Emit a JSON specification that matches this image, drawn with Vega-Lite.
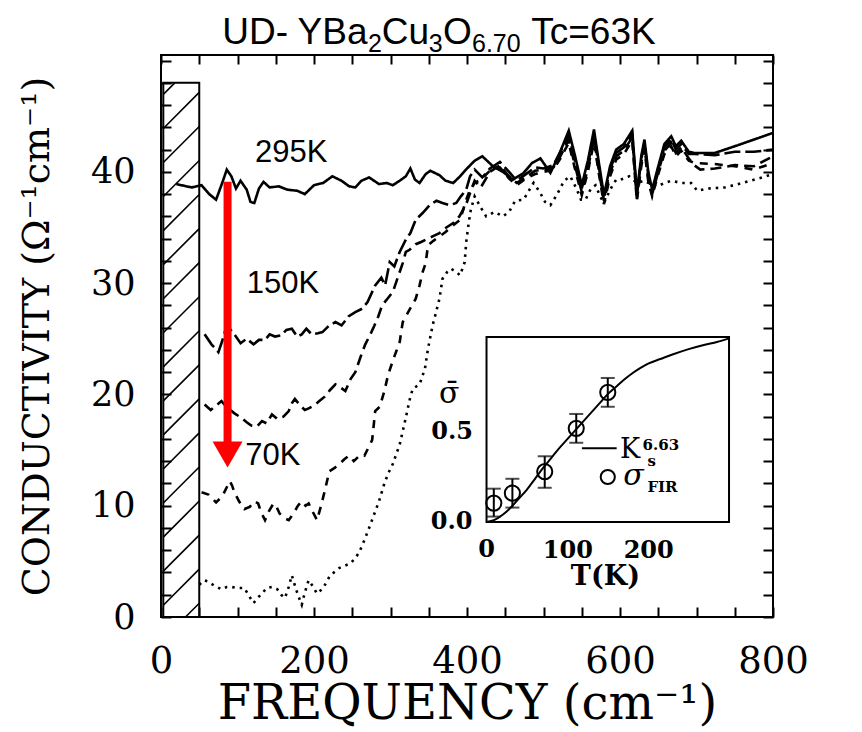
{
  "$schema": "https://vega.github.io/schema/vega-lite/v6.json",
  "width": 612,
  "height": 562,
  "autosize": "none",
  "padding": {"left": 161, "top": 55, "right": 89, "bottom": 115},
  "background": "white",
  "config": {
    "view": {"stroke": "black", "strokeWidth": 2},
    "axis": {"grid": false, "domain": false, "tickColor": "black", "labelColor": "black", "titleColor": "black"}
  },
  "datasets": {
    "spectra": [
      {"T":"295K","f":20,"s":38.9},{"T":"295K","f":40,"s":38.6},{"T":"295K","f":53,"s":38.8},{"T":"295K","f":63,"s":38.0},{"T":"295K","f":72,"s":37.5},{"T":"295K","f":80,"s":39.0},{"T":"295K","f":86,"s":40.2},{"T":"295K","f":92,"s":39.6},{"T":"295K","f":98,"s":38.5},{"T":"295K","f":104,"s":39.2},{"T":"295K","f":112,"s":38.4},{"T":"295K","f":117,"s":37.3},{"T":"295K","f":122,"s":37.2},{"T":"295K","f":128,"s":38.5},{"T":"295K","f":134,"s":39.1},{"T":"295K","f":142,"s":38.6},{"T":"295K","f":154,"s":38.7},{"T":"295K","f":165,"s":38.4},{"T":"295K","f":178,"s":38.3},{"T":"295K","f":188,"s":38.0},{"T":"295K","f":200,"s":38.8},{"T":"295K","f":212,"s":39.0},{"T":"295K","f":224,"s":39.6},{"T":"295K","f":236,"s":39.2},{"T":"295K","f":246,"s":38.7},{"T":"295K","f":254,"s":38.6},{"T":"295K","f":262,"s":39.2},{"T":"295K","f":272,"s":39.5},{"T":"295K","f":285,"s":38.9},{"T":"295K","f":295,"s":39.0},{"T":"295K","f":303,"s":38.8},{"T":"295K","f":312,"s":39.2},{"T":"295K","f":320,"s":39.6},{"T":"295K","f":326,"s":40.3},{"T":"295K","f":332,"s":39.3},{"T":"295K","f":338,"s":39.0},{"T":"295K","f":346,"s":39.8},{"T":"295K","f":352,"s":40.1},{"T":"295K","f":364,"s":39.7},{"T":"295K","f":372,"s":39.2},{"T":"295K","f":382,"s":39.0},{"T":"295K","f":391,"s":39.6},{"T":"295K","f":400,"s":40.3},{"T":"295K","f":410,"s":41.0},{"T":"295K","f":420,"s":41.4},{"T":"295K","f":434,"s":40.5},{"T":"295K","f":447,"s":40.0},{"T":"295K","f":460,"s":39.3},{"T":"295K","f":474,"s":39.9},{"T":"295K","f":485,"s":40.8},{"T":"295K","f":496,"s":41.2},{"T":"295K","f":509,"s":39.9},{"T":"295K","f":520,"s":41.5},{"T":"295K","f":533,"s":43.7},{"T":"295K","f":541,"s":41.5},{"T":"295K","f":550,"s":38.8},{"T":"295K","f":558,"s":41.0},{"T":"295K","f":566,"s":43.8},{"T":"295K","f":572,"s":41.0},{"T":"295K","f":579,"s":37.9},{"T":"295K","f":587,"s":40.5},{"T":"295K","f":595,"s":42.0},{"T":"295K","f":605,"s":42.5},{"T":"295K","f":616,"s":43.7},{"T":"295K","f":622,"s":38.1},{"T":"295K","f":628,"s":41.5},{"T":"295K","f":632,"s":42.9},{"T":"295K","f":637,"s":40.0},{"T":"295K","f":642,"s":38.4},{"T":"295K","f":650,"s":40.5},{"T":"295K","f":658,"s":42.5},{"T":"295K","f":667,"s":43.2},{"T":"295K","f":673,"s":42.3},{"T":"295K","f":680,"s":42.8},{"T":"295K","f":690,"s":41.8},{"T":"295K","f":697,"s":41.7},{"T":"295K","f":724,"s":41.7},{"T":"295K","f":750,"s":42.3},{"T":"295K","f":775,"s":42.9},{"T":"295K","f":800,"s":43.5},

      {"T":"150K","f":57,"s":25.4},{"T":"150K","f":66,"s":24.5},{"T":"150K","f":75,"s":23.8},{"T":"150K","f":80,"s":24.8},{"T":"150K","f":86,"s":26.2},{"T":"150K","f":91,"s":25.8},{"T":"150K","f":96,"s":25.4},{"T":"150K","f":104,"s":24.6},{"T":"150K","f":112,"s":25.0},{"T":"150K","f":121,"s":24.5},{"T":"150K","f":128,"s":24.9},{"T":"150K","f":136,"s":24.9},{"T":"150K","f":142,"s":25.4},{"T":"150K","f":149,"s":25.2},{"T":"150K","f":157,"s":25.3},{"T":"150K","f":164,"s":25.8},{"T":"150K","f":171,"s":25.9},{"T":"150K","f":178,"s":25.2},{"T":"150K","f":184,"s":25.4},{"T":"150K","f":190,"s":25.9},{"T":"150K","f":197,"s":25.4},{"T":"150K","f":205,"s":25.5},{"T":"150K","f":211,"s":25.6},{"T":"150K","f":220,"s":26.2},{"T":"150K","f":228,"s":26.5},{"T":"150K","f":236,"s":26.2},{"T":"150K","f":245,"s":27.0},{"T":"150K","f":254,"s":27.4},{"T":"150K","f":263,"s":27.7},{"T":"150K","f":270,"s":28.3},{"T":"150K","f":280,"s":29.8},{"T":"150K","f":288,"s":30.5},{"T":"150K","f":293,"s":29.8},{"T":"150K","f":299,"s":31.9},{"T":"150K","f":305,"s":31.5},{"T":"150K","f":312,"s":32.8},{"T":"150K","f":320,"s":33.9},{"T":"150K","f":326,"s":34.5},{"T":"150K","f":333,"s":35.7},{"T":"150K","f":342,"s":36.3},{"T":"150K","f":351,"s":37.0},{"T":"150K","f":360,"s":37.4},{"T":"150K","f":368,"s":37.2},{"T":"150K","f":377,"s":37.0},{"T":"150K","f":386,"s":37.2},{"T":"150K","f":392,"s":37.8},{"T":"150K","f":399,"s":38.4},{"T":"150K","f":404,"s":39.6},{"T":"150K","f":410,"s":40.2},{"T":"150K","f":420,"s":39.5},{"T":"150K","f":430,"s":40.3},{"T":"150K","f":443,"s":40.9},{"T":"150K","f":455,"s":40.0},{"T":"150K","f":465,"s":39.2},{"T":"150K","f":477,"s":39.8},{"T":"150K","f":489,"s":40.4},{"T":"150K","f":500,"s":40.3},{"T":"150K","f":513,"s":40.6},{"T":"150K","f":522,"s":41.8},{"T":"150K","f":533,"s":43.3},{"T":"150K","f":541,"s":41.0},{"T":"150K","f":550,"s":38.5},{"T":"150K","f":558,"s":40.6},{"T":"150K","f":566,"s":43.4},{"T":"150K","f":572,"s":40.6},{"T":"150K","f":579,"s":37.6},{"T":"150K","f":587,"s":40.2},{"T":"150K","f":595,"s":41.7},{"T":"150K","f":605,"s":42.2},{"T":"150K","f":616,"s":43.4},{"T":"150K","f":622,"s":37.9},{"T":"150K","f":628,"s":41.2},{"T":"150K","f":632,"s":42.6},{"T":"150K","f":637,"s":39.7},{"T":"150K","f":642,"s":38.2},{"T":"150K","f":650,"s":40.3},{"T":"150K","f":658,"s":42.2},{"T":"150K","f":667,"s":42.9},{"T":"150K","f":673,"s":42.0},{"T":"150K","f":680,"s":42.5},{"T":"150K","f":690,"s":41.6},{"T":"150K","f":697,"s":41.6},{"T":"150K","f":724,"s":41.5},{"T":"150K","f":750,"s":41.8},{"T":"150K","f":775,"s":41.8},{"T":"150K","f":800,"s":42.0},

      {"T":"100K","f":57,"s":19.1},{"T":"100K","f":65,"s":18.6},{"T":"100K","f":72,"s":19.0},{"T":"100K","f":79,"s":19.4},{"T":"100K","f":84,"s":19.0},{"T":"100K","f":88,"s":18.75},{"T":"100K","f":96,"s":18.3},{"T":"100K","f":105,"s":17.9},{"T":"100K","f":112,"s":17.5},{"T":"100K","f":118,"s":17.2},{"T":"100K","f":125,"s":17.1},{"T":"100K","f":132,"s":17.6},{"T":"100K","f":138,"s":17.4},{"T":"100K","f":145,"s":18.2},{"T":"100K","f":152,"s":17.8},{"T":"100K","f":160,"s":18.0},{"T":"100K","f":167,"s":18.5},{"T":"100K","f":171,"s":19.2},{"T":"100K","f":175,"s":19.6},{"T":"100K","f":182,"s":19.0},{"T":"100K","f":188,"s":18.6},{"T":"100K","f":193,"s":18.75},{"T":"100K","f":200,"s":19.0},{"T":"100K","f":207,"s":19.4},{"T":"100K","f":214,"s":19.8},{"T":"100K","f":221,"s":20.4},{"T":"100K","f":228,"s":20.9},{"T":"100K","f":235,"s":20.6},{"T":"100K","f":241,"s":20.3},{"T":"100K","f":248,"s":21.4},{"T":"100K","f":254,"s":22.0},{"T":"100K","f":261,"s":23.4},{"T":"100K","f":267,"s":24.5},{"T":"100K","f":273,"s":25.3},{"T":"100K","f":279,"s":26.2},{"T":"100K","f":284,"s":27.0},{"T":"100K","f":289,"s":28.0},{"T":"100K","f":296,"s":28.6},{"T":"100K","f":303,"s":29.2},{"T":"100K","f":308,"s":30.2},{"T":"100K","f":312,"s":31.0},{"T":"100K","f":316,"s":31.8},{"T":"100K","f":320,"s":32.8},{"T":"100K","f":325,"s":33.0},{"T":"100K","f":333,"s":33.5},{"T":"100K","f":340,"s":33.7},{"T":"100K","f":346,"s":33.9},{"T":"100K","f":355,"s":34.2},{"T":"100K","f":364,"s":34.5},{"T":"100K","f":373,"s":35.0},{"T":"100K","f":382,"s":35.4},{"T":"100K","f":390,"s":36.0},{"T":"100K","f":395,"s":36.6},{"T":"100K","f":400,"s":37.3},{"T":"100K","f":404,"s":38.1},{"T":"100K","f":410,"s":39.2},{"T":"100K","f":418,"s":38.6},{"T":"100K","f":430,"s":40.0},{"T":"100K","f":443,"s":40.6},{"T":"100K","f":455,"s":39.6},{"T":"100K","f":465,"s":39.0},{"T":"100K","f":477,"s":39.5},{"T":"100K","f":489,"s":40.1},{"T":"100K","f":500,"s":40.2},{"T":"100K","f":513,"s":40.4},{"T":"100K","f":522,"s":41.4},{"T":"100K","f":533,"s":42.9},{"T":"100K","f":541,"s":40.6},{"T":"100K","f":550,"s":38.2},{"T":"100K","f":558,"s":40.3},{"T":"100K","f":566,"s":43.0},{"T":"100K","f":572,"s":40.3},{"T":"100K","f":579,"s":37.4},{"T":"100K","f":587,"s":39.9},{"T":"100K","f":595,"s":41.4},{"T":"100K","f":605,"s":41.9},{"T":"100K","f":616,"s":43.1},{"T":"100K","f":622,"s":37.6},{"T":"100K","f":628,"s":40.9},{"T":"100K","f":632,"s":42.3},{"T":"100K","f":637,"s":39.4},{"T":"100K","f":642,"s":38.0},{"T":"100K","f":650,"s":40.0},{"T":"100K","f":658,"s":41.9},{"T":"100K","f":667,"s":42.6},{"T":"100K","f":673,"s":41.7},{"T":"100K","f":680,"s":42.2},{"T":"100K","f":690,"s":41.2},{"T":"100K","f":697,"s":40.6},{"T":"100K","f":705,"s":40.2},{"T":"100K","f":724,"s":40.3},{"T":"100K","f":750,"s":40.6},{"T":"100K","f":775,"s":40.5},{"T":"100K","f":800,"s":41.4},

      {"T":"70K","f":53,"s":11.2},{"T":"70K","f":62,"s":11.0},{"T":"70K","f":72,"s":10.3},{"T":"70K","f":78,"s":10.7},{"T":"70K","f":82,"s":11.1},{"T":"70K","f":87,"s":11.8},{"T":"70K","f":90,"s":12.2},{"T":"70K","f":93,"s":11.8},{"T":"70K","f":96,"s":11.2},{"T":"70K","f":102,"s":10.4},{"T":"70K","f":109,"s":9.7},{"T":"70K","f":116,"s":9.9},{"T":"70K","f":122,"s":10.4},{"T":"70K","f":127,"s":10.2},{"T":"70K","f":131,"s":9.4},{"T":"70K","f":136,"s":8.7},{"T":"70K","f":141,"s":9.5},{"T":"70K","f":147,"s":10.2},{"T":"70K","f":151,"s":9.9},{"T":"70K","f":155,"s":9.3},{"T":"70K","f":161,"s":8.9},{"T":"70K","f":167,"s":8.7},{"T":"70K","f":174,"s":9.4},{"T":"70K","f":179,"s":10.0},{"T":"70K","f":184,"s":10.4},{"T":"70K","f":189,"s":10.0},{"T":"70K","f":193,"s":10.2},{"T":"70K","f":198,"s":9.5},{"T":"70K","f":204,"s":8.7},{"T":"70K","f":210,"s":10.2},{"T":"70K","f":215,"s":11.6},{"T":"70K","f":220,"s":13.1},{"T":"70K","f":227,"s":13.4},{"T":"70K","f":234,"s":13.8},{"T":"70K","f":240,"s":14.2},{"T":"70K","f":246,"s":14.5},{"T":"70K","f":252,"s":14.0},{"T":"70K","f":258,"s":14.4},{"T":"70K","f":263,"s":14.6},{"T":"70K","f":266,"s":14.5},{"T":"70K","f":271,"s":15.2},{"T":"70K","f":276,"s":15.9},{"T":"70K","f":280,"s":18.5},{"T":"70K","f":286,"s":18.9},{"T":"70K","f":292,"s":20.3},{"T":"70K","f":296,"s":21.5},{"T":"70K","f":299,"s":22.2},{"T":"70K","f":305,"s":23.4},{"T":"70K","f":312,"s":24.7},{"T":"70K","f":316,"s":26.5},{"T":"70K","f":324,"s":27.5},{"T":"70K","f":333,"s":28.6},{"T":"70K","f":338,"s":29.8},{"T":"70K","f":342,"s":31.0},{"T":"70K","f":346,"s":31.8},{"T":"70K","f":349,"s":33.4},{"T":"70K","f":356,"s":33.8},{"T":"70K","f":364,"s":34.2},{"T":"70K","f":372,"s":34.6},{"T":"70K","f":382,"s":35.2},{"T":"70K","f":391,"s":35.7},{"T":"70K","f":399,"s":37.5},{"T":"70K","f":404,"s":38.4},{"T":"70K","f":410,"s":39.0},{"T":"70K","f":418,"s":39.3},{"T":"70K","f":430,"s":40.1},{"T":"70K","f":443,"s":40.4},{"T":"70K","f":455,"s":39.4},{"T":"70K","f":465,"s":38.8},{"T":"70K","f":477,"s":39.4},{"T":"70K","f":489,"s":39.8},{"T":"70K","f":500,"s":40.0},{"T":"70K","f":513,"s":40.2},{"T":"70K","f":522,"s":41.2},{"T":"70K","f":533,"s":42.6},{"T":"70K","f":541,"s":40.3},{"T":"70K","f":550,"s":37.9},{"T":"70K","f":558,"s":40.0},{"T":"70K","f":566,"s":42.7},{"T":"70K","f":572,"s":40.0},{"T":"70K","f":579,"s":37.1},{"T":"70K","f":587,"s":39.6},{"T":"70K","f":595,"s":41.1},{"T":"70K","f":605,"s":41.6},{"T":"70K","f":616,"s":42.8},{"T":"70K","f":622,"s":37.4},{"T":"70K","f":628,"s":40.6},{"T":"70K","f":632,"s":42.0},{"T":"70K","f":637,"s":39.1},{"T":"70K","f":642,"s":37.8},{"T":"70K","f":650,"s":39.8},{"T":"70K","f":658,"s":41.6},{"T":"70K","f":667,"s":42.3},{"T":"70K","f":673,"s":41.4},{"T":"70K","f":680,"s":41.9},{"T":"70K","f":690,"s":41.0},{"T":"70K","f":697,"s":40.8},{"T":"70K","f":724,"s":40.7},{"T":"70K","f":750,"s":40.5},{"T":"70K","f":775,"s":40.2},{"T":"70K","f":800,"s":40.8},

      {"T":"10K","f":50,"s":2.9},{"T":"10K","f":56,"s":3.3},{"T":"10K","f":61,"s":3.2},{"T":"10K","f":70,"s":2.8},{"T":"10K","f":79,"s":2.5},{"T":"10K","f":86,"s":2.7},{"T":"10K","f":92,"s":2.7},{"T":"10K","f":100,"s":2.6},{"T":"10K","f":109,"s":2.6},{"T":"10K","f":115,"s":1.9},{"T":"10K","f":121,"s":1.25},{"T":"10K","f":126,"s":1.7},{"T":"10K","f":132,"s":2.1},{"T":"10K","f":138,"s":2.6},{"T":"10K","f":145,"s":2.7},{"T":"10K","f":152,"s":2.5},{"T":"10K","f":157,"s":2.0},{"T":"10K","f":162,"s":1.7},{"T":"10K","f":167,"s":2.7},{"T":"10K","f":171,"s":3.75},{"T":"10K","f":176,"s":2.6},{"T":"10K","f":180,"s":1.8},{"T":"10K","f":184,"s":1.1},{"T":"10K","f":188,"s":2.2},{"T":"10K","f":193,"s":3.3},{"T":"10K","f":198,"s":2.8},{"T":"10K","f":204,"s":2.1},{"T":"10K","f":212,"s":2.6},{"T":"10K","f":220,"s":3.6},{"T":"10K","f":226,"s":4.0},{"T":"10K","f":233,"s":4.4},{"T":"10K","f":240,"s":4.6},{"T":"10K","f":247,"s":4.8},{"T":"10K","f":253,"s":5.2},{"T":"10K","f":259,"s":5.8},{"T":"10K","f":264,"s":6.6},{"T":"10K","f":267,"s":7.1},{"T":"10K","f":272,"s":8.0},{"T":"10K","f":279,"s":9.3},{"T":"10K","f":285,"s":10.4},{"T":"10K","f":292,"s":12.0},{"T":"10K","f":297,"s":12.9},{"T":"10K","f":303,"s":13.75},{"T":"10K","f":312,"s":15.5},{"T":"10K","f":320,"s":17.9},{"T":"10K","f":325,"s":19.5},{"T":"10K","f":329,"s":20.5},{"T":"10K","f":338,"s":20.9},{"T":"10K","f":345,"s":22.3},{"T":"10K","f":349,"s":24.1},{"T":"10K","f":355,"s":26.2},{"T":"10K","f":360,"s":27.5},{"T":"10K","f":364,"s":28.6},{"T":"10K","f":368,"s":30.4},{"T":"10K","f":374,"s":31.0},{"T":"10K","f":379,"s":31.3},{"T":"10K","f":386,"s":31.0},{"T":"10K","f":391,"s":30.7},{"T":"10K","f":395,"s":31.5},{"T":"10K","f":397,"s":31.9},{"T":"10K","f":399,"s":33.7},{"T":"10K","f":402,"s":35.3},{"T":"10K","f":405,"s":36.6},{"T":"10K","f":410,"s":37.8},{"T":"10K","f":418,"s":36.8},{"T":"10K","f":425,"s":36.0},{"T":"10K","f":436,"s":36.4},{"T":"10K","f":447,"s":36.0},{"T":"10K","f":455,"s":36.4},{"T":"10K","f":463,"s":37.4},{"T":"10K","f":474,"s":37.5},{"T":"10K","f":480,"s":38.2},{"T":"10K","f":487,"s":39.0},{"T":"10K","f":495,"s":38.2},{"T":"10K","f":502,"s":37.3},{"T":"10K","f":509,"s":37.0},{"T":"10K","f":518,"s":38.0},{"T":"10K","f":527,"s":39.2},{"T":"10K","f":535,"s":39.6},{"T":"10K","f":543,"s":38.5},{"T":"10K","f":549,"s":37.5},{"T":"10K","f":555,"s":37.5},{"T":"10K","f":562,"s":38.5},{"T":"10K","f":568,"s":38.8},{"T":"10K","f":574,"s":37.8},{"T":"10K","f":579,"s":37.2},{"T":"10K","f":588,"s":38.5},{"T":"10K","f":595,"s":39.3},{"T":"10K","f":601,"s":39.3},{"T":"10K","f":612,"s":39.6},{"T":"10K","f":622,"s":39.0},{"T":"10K","f":632,"s":39.2},{"T":"10K","f":640,"s":38.9},{"T":"10K","f":649,"s":38.7},{"T":"10K","f":658,"s":39.0},{"T":"10K","f":667,"s":39.2},{"T":"10K","f":680,"s":39.0},{"T":"10K","f":693,"s":39.0},{"T":"10K","f":701,"s":38.3},{"T":"10K","f":715,"s":38.5},{"T":"10K","f":737,"s":38.6},{"T":"10K","f":760,"s":39.0},{"T":"10K","f":786,"s":39.5},{"T":"10K","f":800,"s":39.8}
    ],
    "hatch": [
      {"f1":32,"s1":0,"f2":50,"s2":1.24},{"f1":3,"s1":1.06,"f2":50,"s2":4.3},{"f1":3,"s1":4.12,"f2":50,"s2":7.36},{"f1":3,"s1":7.18,"f2":50,"s2":10.42},{"f1":3,"s1":10.24,"f2":50,"s2":13.48},{"f1":3,"s1":13.3,"f2":50,"s2":16.54},{"f1":3,"s1":16.36,"f2":50,"s2":19.6},{"f1":3,"s1":19.42,"f2":50,"s2":22.66},{"f1":3,"s1":22.48,"f2":50,"s2":25.72},{"f1":3,"s1":25.54,"f2":50,"s2":28.78},{"f1":3,"s1":28.6,"f2":50,"s2":31.84},{"f1":3,"s1":31.66,"f2":50,"s2":34.9},{"f1":3,"s1":34.72,"f2":50,"s2":37.96},{"f1":3,"s1":37.78,"f2":50,"s2":41.02},{"f1":3,"s1":40.84,"f2":50,"s2":44.08},{"f1":3,"s1":43.9,"f2":50,"s2":47.14},{"f1":3,"s1":46.96,"f2":18.1,"s2":48}
    ],
    "labels": [
      {"txt":"295K","f":123,"s":40.9},{"txt":"150K","f":112,"s":29.1},{"txt":"70K","f":110,"s":13.7}
    ],
    "titleMain": [
      {"txt":"UD- YBa","f":80,"s":51.5},{"txt":"Cu","f":288.5,"s":51.5},{"txt":"O","f":368.5,"s":51.5},{"txt":"Tc=63K","f":484,"s":51.5}
    ],
    "titleSub": [
      {"txt":"2","f":270.5,"s":50.75},{"txt":"3","f":350.0,"s":50.75},{"txt":"6.70","f":406.5,"s":50.75}
    ],
    "ksCurve": [
      {"T":0,"sig":0},{"T":10,"sig":0.012},{"T":20,"sig":0.04},{"T":30,"sig":0.08},{"T":40,"sig":0.13},{"T":50,"sig":0.18},{"T":60,"sig":0.24},{"T":70,"sig":0.3},{"T":80,"sig":0.355},{"T":90,"sig":0.41},{"T":100,"sig":0.46},{"T":110,"sig":0.51},{"T":120,"sig":0.56},{"T":130,"sig":0.61},{"T":140,"sig":0.66},{"T":150,"sig":0.71},{"T":160,"sig":0.75},{"T":170,"sig":0.79},{"T":180,"sig":0.825},{"T":190,"sig":0.855},{"T":200,"sig":0.88},{"T":215,"sig":0.905},{"T":230,"sig":0.93},{"T":250,"sig":0.96},{"T":270,"sig":0.985},{"T":285,"sig":1.0},{"T":300,"sig":1.02}
    ],
    "fir": [
      {"T":9,"sig":0.105,"lo":0.03,"hi":0.185},{"T":32,"sig":0.16,"lo":0.08,"hi":0.24},{"T":72,"sig":0.28,"lo":0.19,"hi":0.365},{"T":111,"sig":0.52,"lo":0.44,"hi":0.6},{"T":150,"sig":0.72,"lo":0.64,"hi":0.8}
    ]
  },
  "layer": [
    {
      "layer": [
        {
          "data": {"name": "spectra"},
          "mark": {"type": "line", "color": "black", "interpolate": "linear"},
          "encoding": {
            "x": {"field": "f", "type": "quantitative", "scale": {"domain": [0, 800], "nice": false, "zero": false},
              "axis": {"orient": "bottom", "values": [0,50,100,150,200,250,300,350,400,450,500,550,600,650,700,750,800],
                "labelExpr": "datum.value % 200 === 0 ? datum.label : ''", "tickSize": -10, "tickWidth": 2,
                "labelFont": "DejaVu Serif", "labelFontSize": 37, "labelPadding": 36, "labelFlush": false,
                "title": "FREQUENCY (cm⁻¹)", "titleFont": "DejaVu Serif", "titleFontSize": 48, "titleFontWeight": "normal", "titlePadding": 1}},
            "y": {"field": "s", "type": "quantitative", "scale": {"domain": [0, 50.5], "nice": false, "zero": false},
              "axis": {"orient": "left", "values": [0,2,4,6,8,10,12,14,16,18,20,22,24,26,28,30,32,34,36,38,40,42,44,46,48,50],
                "labelExpr": "datum.value % 10 === 0 && datum.value < 50 ? datum.label : ''", "tickSize": -10, "tickWidth": 2,
                "labelFont": "DejaVu Serif", "labelFontSize": 35, "labelPadding": 36, "labelFlush": false,
                "title": "CONDUCTIVITY (Ω⁻¹cm⁻¹)", "titleFont": "DejaVu Serif", "titleFontSize": 38, "titleFontWeight": "normal", "titlePadding": 34}},
            "detail": {"field": "T"},
            "strokeDash": {"field": "T", "type": "nominal", "legend": null,
              "scale": {"domain": ["295K","150K","100K","70K","10K"], "range": [[1,0],[16,5],[11,6],[8,7],[2.5,5]]}},
            "strokeWidth": {"field": "T", "type": "nominal", "legend": null,
              "scale": {"domain": ["295K","150K","100K","70K","10K"], "range": [2.6,2.6,2.6,2.6,3.2]}}
          }
        },
        {
          "data": {"values": [{}]},
          "mark": {"type": "rect", "fill": null, "stroke": "black", "strokeWidth": 2},
          "encoding": {
            "x": {"datum": 3, "type": "quantitative",
              "axis": {"orient": "top", "values": [0,50,100,150,200,250,300,350,400,450,500,550,600,650,700,750,800], "labels": false, "title": null, "tickSize": -9, "tickWidth": 2}},
            "x2": {"datum": 50},
            "y": {"datum": 0, "type": "quantitative",
              "axis": {"orient": "right", "values": [0,2,4,6,8,10,12,14,16,18,20,22,24,26,28,30,32,34,36,38,40,42,44,46,48,50], "labels": false, "title": null, "tickSize": -10, "tickWidth": 2}},
            "y2": {"datum": 48}
          }
        },
        {
          "data": {"name": "hatch"},
          "mark": {"type": "rule", "color": "black", "strokeWidth": 1.6},
          "encoding": {
            "x": {"field": "f1", "type": "quantitative", "axis": null},
            "x2": {"field": "f2"},
            "y": {"field": "s1", "type": "quantitative", "axis": null},
            "y2": {"field": "s2"}
          }
        },
        {
          "data": {"values": [{"f": 87, "top": 39.1, "bottom": 15.6}]},
          "mark": {"type": "rule", "color": "#ff0000", "strokeWidth": 8},
          "encoding": {
            "x": {"field": "f", "type": "quantitative", "axis": null},
            "y": {"field": "top", "type": "quantitative", "axis": null},
            "y2": {"field": "bottom"}
          }
        },
        {
          "data": {"values": [{"f": 87, "s": 14.6}]},
          "mark": {"type": "point", "shape": "triangle-down", "filled": true, "color": "#ff0000", "size": 900, "opacity": 1},
          "encoding": {
            "x": {"field": "f", "type": "quantitative", "axis": null},
            "y": {"field": "s", "type": "quantitative", "axis": null}
          }
        },
        {
          "data": {"name": "labels"},
          "mark": {"type": "text", "align": "left", "baseline": "alphabetic", "font": "Liberation Sans", "fontSize": 31, "color": "black"},
          "encoding": {
            "x": {"field": "f", "type": "quantitative", "axis": null},
            "y": {"field": "s", "type": "quantitative", "axis": null},
            "text": {"field": "txt"}
          }
        },
        {
          "data": {"name": "titleMain"},
          "mark": {"type": "text", "align": "left", "baseline": "alphabetic", "font": "Liberation Sans", "fontSize": 37, "color": "black"},
          "encoding": {
            "x": {"field": "f", "type": "quantitative", "axis": null},
            "y": {"field": "s", "type": "quantitative", "axis": null},
            "text": {"field": "txt"}
          }
        },
        {
          "data": {"name": "titleSub"},
          "mark": {"type": "text", "align": "left", "baseline": "alphabetic", "font": "Liberation Sans", "fontSize": 25, "color": "black"},
          "encoding": {
            "x": {"field": "f", "type": "quantitative", "axis": null},
            "y": {"field": "s", "type": "quantitative", "axis": null},
            "text": {"field": "txt"}
          }
        }
      ],
      "resolve": {"axis": {"x": "independent", "y": "independent"}}
    },
    {
      "layer": [
        {
          "data": {"values": [{}]},
          "mark": {"type": "rect", "fill": "white", "stroke": "black", "strokeWidth": 2},
          "encoding": {
            "x": {"datum": 0, "type": "quantitative", "scale": {"domain": [-402.7, 354.4], "nice": false, "zero": false},
              "axis": {"orient": "top", "offset": -282, "values": [50,100,150,200,250], "labels": false, "title": null, "tickSize": -7, "tickWidth": 2}},
            "x2": {"datum": 300},
            "y": {"datum": 0, "type": "quantitative", "scale": {"domain": [-0.5278, 2.594], "nice": false, "zero": false},
              "axis": {"orient": "right", "offset": -44, "values": [0.1,0.2,0.3,0.4,0.5,0.6,0.7,0.8,0.9,1.0], "labels": false, "title": null, "tickSize": -7, "tickWidth": 2}},
            "y2": {"datum": 1.028}
          }
        },
        {
          "data": {"name": "ksCurve"},
          "mark": {"type": "line", "color": "black", "strokeWidth": 2, "interpolate": "monotone"},
          "encoding": {
            "x": {"field": "T", "type": "quantitative",
              "axis": {"orient": "bottom", "offset": -95, "values": [50,100,150,200,250], "tickSize": -8, "tickWidth": 2,
                "labelExpr": "datum.value % 100 === 0 ? datum.label : ''", "labelFont": "DejaVu Serif", "labelFontWeight": "bold", "labelFontSize": 24, "labelPadding": 24,
                "title": null}},
            "y": {"field": "sig", "type": "quantitative",
              "axis": {"orient": "left", "offset": -325.5, "values": [0.1,0.2,0.3,0.4,0.5,0.6,0.7,0.8,0.9,1.0], "tickSize": -7, "tickWidth": 2,
                "labelExpr": "datum.value === 0.5 ? '0.5' : ''", "labelFont": "DejaVu Serif", "labelFontWeight": "bold", "labelFontSize": 24, "labelPadding": 21, "title": null}}
          }
        },
        {
          "data": {"values": [{"T": 0, "sig": 0, "lab": "0"}]},
          "mark": {"type": "text", "align": "center", "baseline": "top", "dy": 16, "font": "DejaVu Serif", "fontWeight": "bold", "fontSize": 24, "color": "black"},
          "encoding": {
            "x": {"field": "T", "type": "quantitative", "axis": null},
            "y": {"field": "sig", "type": "quantitative", "axis": null},
            "text": {"field": "lab"}
          }
        },
        {
          "data": {"values": [{"T": 0, "sig": 0, "lab": "0.0"}]},
          "mark": {"type": "text", "align": "right", "baseline": "middle", "dx": -14, "font": "DejaVu Serif", "fontWeight": "bold", "fontSize": 24, "color": "black"},
          "encoding": {
            "x": {"field": "T", "type": "quantitative", "axis": null},
            "y": {"field": "sig", "type": "quantitative", "axis": null},
            "text": {"field": "lab"}
          }
        },
        {
          "data": {"values": [{"T": 147, "sig": -0.35, "lab": "T(K)"}]},
          "mark": {"type": "text", "align": "center", "baseline": "alphabetic", "font": "DejaVu Serif", "fontWeight": "bold", "fontSize": 27, "color": "black"},
          "encoding": {
            "x": {"field": "T", "type": "quantitative", "axis": null},
            "y": {"field": "sig", "type": "quantitative", "axis": null},
            "text": {"field": "lab"}
          }
        },
        {
          "data": {"name": "fir"},
          "mark": {"type": "errorbar", "ticks": {"size": 14, "thickness": 2, "color": "black"}, "rule": {"strokeWidth": 2, "color": "black"}},
          "encoding": {
            "x": {"field": "T", "type": "quantitative", "axis": null},
            "y": {"field": "lo", "type": "quantitative", "axis": null},
            "y2": {"field": "hi"}
          }
        },
        {
          "data": {"name": "fir"},
          "mark": {"type": "point", "shape": "circle", "filled": false, "color": "black", "strokeWidth": 2, "size": 230, "opacity": 1},
          "encoding": {
            "x": {"field": "T", "type": "quantitative", "axis": null},
            "y": {"field": "sig", "type": "quantitative", "axis": null}
          }
        },
        {
          "data": {"values": [{"T1": 118, "T2": 161, "sig": 0.41}]},
          "mark": {"type": "rule", "color": "black", "strokeWidth": 2},
          "encoding": {
            "x": {"field": "T1", "type": "quantitative", "axis": null},
            "x2": {"field": "T2"},
            "y": {"field": "sig", "type": "quantitative", "axis": null}
          }
        },
        {
          "data": {"values": [{"T": 150, "sig": 0.25}]},
          "mark": {"type": "point", "shape": "circle", "filled": false, "color": "black", "strokeWidth": 2, "size": 200, "opacity": 1},
          "encoding": {
            "x": {"field": "T", "type": "quantitative", "axis": null},
            "y": {"field": "sig", "type": "quantitative", "axis": null}
          }
        },
        {
          "data": {"values": [{"txt": "K", "T": 165, "sig": 0.355}]},
          "mark": {"type": "text", "align": "left", "baseline": "alphabetic", "font": "DejaVu Serif", "fontSize": 27, "color": "black"},
          "encoding": {
            "x": {"field": "T", "type": "quantitative", "axis": null},
            "y": {"field": "sig", "type": "quantitative", "axis": null},
            "text": {"field": "txt"}
          }
        },
        {
          "data": {"values": [{"txt": "σ", "T": 169, "sig": 0.205}]},
          "mark": {"type": "text", "align": "left", "baseline": "alphabetic", "font": "DejaVu Serif", "fontStyle": "italic", "fontSize": 30, "color": "black"},
          "encoding": {
            "x": {"field": "T", "type": "quantitative", "axis": null},
            "y": {"field": "sig", "type": "quantitative", "axis": null},
            "text": {"field": "txt"}
          }
        },
        {
          "data": {"values": [{"txt": "6.63", "T": 193, "sig": 0.4}, {"txt": "s", "T": 199, "sig": 0.31}, {"txt": "FIR", "T": 199, "sig": 0.165}]},
          "mark": {"type": "text", "align": "left", "baseline": "alphabetic", "font": "DejaVu Serif", "fontWeight": "bold", "fontSize": 15, "color": "black"},
          "encoding": {
            "x": {"field": "T", "type": "quantitative", "axis": null},
            "y": {"field": "sig", "type": "quantitative", "axis": null},
            "text": {"field": "txt"}
          }
        },
        {
          "data": {"values": [{"txt": "σ̄", "T": -46, "sig": 0.66}]},
          "mark": {"type": "text", "align": "center", "baseline": "alphabetic", "font": "DejaVu Serif", "fontSize": 30, "color": "black"},
          "encoding": {
            "x": {"field": "T", "type": "quantitative", "axis": null},
            "y": {"field": "sig", "type": "quantitative", "axis": null},
            "text": {"field": "txt"}
          }
        }
      ],
      "resolve": {"axis": {"x": "independent", "y": "independent"}}
    }
  ],
  "resolve": {"scale": {"x": "independent", "y": "independent", "strokeDash": "independent", "strokeWidth": "independent"}}
}
